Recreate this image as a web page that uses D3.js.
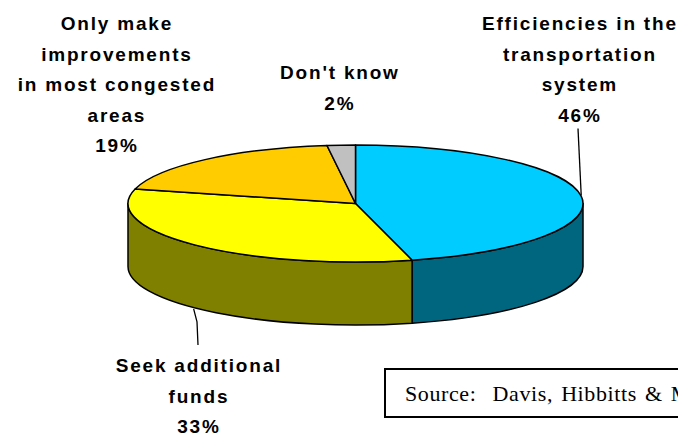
<!DOCTYPE html>
<html>
<head>
<meta charset="utf-8">
<script src="https://cdn.jsdelivr.net/npm/d3@7"></script>
<style>
  html, body { margin: 0; padding: 0; background: #fff; overflow: hidden; }
  svg { display: block; }
  .lbl { font-family: "Liberation Sans", Arial, sans-serif; font-weight: bold; font-size: 19px; letter-spacing: 1.8px; fill: #000; }
  .src { font-family: "Liberation Serif", "Times New Roman", serif; font-size: 22px; letter-spacing: 0.6px; word-spacing: 2px; fill: #000; }
</style>
</head>
<body>
<svg id="chart" width="678" height="433"></svg>
<script>
// Survey answers and their shares (percent)
const categories = [
  "Efficiencies in the transportation system",
  "Seek additional funds",
  "Only make improvements in most congested areas",
  "Don't know"
];
const values = [46, 33, 19, 2];
const labelLines = [
  ["Efficiencies in the", "transportation", "system"],
  ["Seek additional", "funds"],
  ["Only make", "improvements", "in most congested", "areas"],
  ["Don't know"]
];
const topColors = ["#00CCFF", "#FFFF00", "#FFCC00", "#C0C0C0"];
const sideColors = ["#00667F", "#808000", "#9A7B00", "#737373"];
const sourceText = "Source:  Davis, Hibbitts & Midghall, Inc.";

// Geometry of the tilted disc
const cx = 355.5, cy = 203.5, rx = 227.5, ry = 58.5, depth = 63;

// Label placement: anchor x and centre of first text line; leader side
const labelLayout = [
  { x: 579, y: 23, leader: "top" },
  { x: 198, y: 365, leader: "bottom" },
  { x: 116, y: 23, leader: null },
  { x: 339, y: 72, leader: null }
];
const lineGap = 30.5;

const svg = d3.select("#chart");
const fillTop = d3.scaleOrdinal().domain(categories).range(topColors);
const fillSide = d3.scaleOrdinal().domain(categories).range(sideColors);

const pie = d3.pie().sort(null).value(d => d.value);
const arcs = pie(categories.map((c, i) => ({ name: c, value: values[i], i })));

function pt(a, dy) {
  return [cx + rx * Math.sin(a), cy - ry * Math.cos(a) + (dy || 0)];
}

// Outer wall: only the front half (right -> bottom -> left) is visible
const sideG = svg.append("g");
arcs.forEach(d => {
  const a0 = Math.max(d.startAngle, Math.PI / 2);
  const a1 = Math.min(d.endAngle, 3 * Math.PI / 2);
  if (a0 >= a1) return;
  const p0 = pt(a0), p1 = pt(a1), q1 = pt(a1, depth), q0 = pt(a0, depth);
  const large = (a1 - a0) > Math.PI ? 1 : 0;
  const path = `M${p0[0]},${p0[1]} A${rx},${ry} 0 ${large} 1 ${p1[0]},${p1[1]}` +
    ` L${q1[0]},${q1[1]} A${rx},${ry} 0 ${large} 0 ${q0[0]},${q0[1]} Z`;
  sideG.append("path")
    .attr("d", path)
    .attr("fill", fillSide(d.data.name))
    .attr("stroke", "#000")
    .attr("stroke-width", 1.5)
    .attr("stroke-linejoin", "round");
});

// Top faces
const topG = svg.append("g");
arcs.forEach(d => {
  const p0 = pt(d.startAngle), p1 = pt(d.endAngle);
  const large = (d.endAngle - d.startAngle) > Math.PI ? 1 : 0;
  const path = `M${cx},${cy} L${p0[0]},${p0[1]} A${rx},${ry} 0 ${large} 1 ${p1[0]},${p1[1]} Z`;
  topG.append("path")
    .attr("d", path)
    .attr("fill", fillTop(d.data.name))
    .attr("stroke", "#000")
    .attr("stroke-width", 1.5)
    .attr("stroke-linejoin", "round");
});

// Labels with percentages and leader lines
const fmt = d3.format(".0f");
arcs.forEach((d, i) => {
  const lay = labelLayout[i];
  const lines = labelLines[i].concat([fmt(d.data.value) + "%"]);
  const t = svg.append("text")
    .attr("class", "lbl")
    .attr("text-anchor", "middle");
  lines.forEach((ln, k) => {
    t.append("tspan")
      .attr("x", lay.x + 0.9)
      .attr("y", lay.y + k * lineGap + 7)
      .text(ln);
  });
  const mid = (d.startAngle + d.endAngle) / 2;
  if (lay.leader === "top") {
    const e = pt(mid);
    const yStart = lay.y + (lines.length - 1) * lineGap + 14;
    svg.append("path")
      .attr("d", `M${lay.x - 1},${yStart} L${e[0]},${e[1] - 1}`)
      .attr("fill", "none").attr("stroke", "#000").attr("stroke-width", 1.3);
  } else if (lay.leader === "bottom") {
    const e = pt(mid, depth);
    const yEnd = lay.y - 20;
    svg.append("path")
      .attr("d", `M${e[0] - 1},${e[1] + 1} L${lay.x - 1},${e[1] + 14} L${lay.x},${yEnd}`)
      .attr("fill", "none").attr("stroke", "#000").attr("stroke-width", 1.3);
  }
});

// Source note box, running off the right edge
svg.append("rect")
  .attr("x", 385).attr("y", 369)
  .attr("width", 400).attr("height", 48)
  .attr("fill", "#fff")
  .attr("stroke", "#000").attr("stroke-width", 2);
svg.append("text")
  .attr("class", "src")
  .attr("x", 405).attr("y", 401)
  .attr("xml:space", "preserve")
  .style("white-space", "pre")
  .text(sourceText);
</script>
</body>
</html>
